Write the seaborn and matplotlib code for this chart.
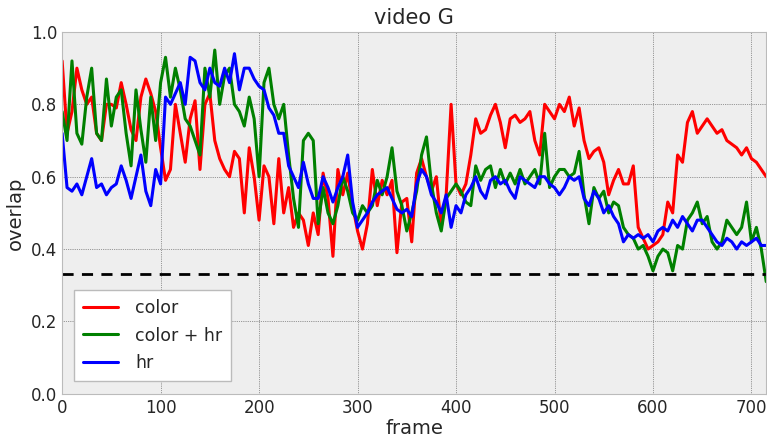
import numpy as np
import pandas as pd
import matplotlib
matplotlib.use("Agg")
import matplotlib.pyplot as plt
import seaborn as sns

frames = list(range(0, 716, 5))

color = [0.92, 0.72, 0.78, 0.90, 0.84, 0.80, 0.82, 0.72, 0.70, 0.80,
         0.80, 0.79, 0.86, 0.80, 0.73, 0.70, 0.82, 0.87, 0.83, 0.78,
         0.68, 0.59, 0.62, 0.80, 0.72, 0.64, 0.76, 0.81, 0.62, 0.80,
         0.83, 0.70, 0.65, 0.62, 0.60, 0.67, 0.65, 0.50, 0.68, 0.60,
         0.48, 0.63, 0.60, 0.47, 0.65, 0.50, 0.57, 0.46, 0.50, 0.48,
         0.41, 0.50, 0.44, 0.61, 0.54, 0.38, 0.62, 0.55, 0.61, 0.52,
         0.45, 0.40, 0.47, 0.62, 0.52, 0.59, 0.55, 0.59, 0.39, 0.53,
         0.54, 0.42, 0.61, 0.65, 0.60, 0.56, 0.60, 0.46, 0.55, 0.80,
         0.58, 0.55, 0.58, 0.66, 0.76, 0.72, 0.73, 0.77, 0.80, 0.75,
         0.68, 0.76, 0.77, 0.75, 0.76, 0.78, 0.70, 0.66, 0.80, 0.78,
         0.76, 0.80, 0.78, 0.82, 0.74, 0.79, 0.70, 0.65, 0.67, 0.68,
         0.64, 0.55, 0.59, 0.62, 0.58, 0.58, 0.63, 0.46, 0.43, 0.40,
         0.41, 0.42, 0.44, 0.53, 0.50, 0.66, 0.64, 0.75, 0.78, 0.72,
         0.74, 0.76, 0.74, 0.72, 0.73, 0.70, 0.69, 0.68, 0.66, 0.68,
         0.65, 0.64, 0.62, 0.60]

color_hr = [0.78, 0.70, 0.92, 0.72, 0.69, 0.82, 0.90, 0.72, 0.70, 0.87,
            0.74, 0.82, 0.84, 0.72, 0.63, 0.84, 0.73, 0.64, 0.82, 0.70,
            0.86, 0.93, 0.82, 0.90, 0.84, 0.76, 0.74, 0.70, 0.66, 0.90,
            0.82, 0.95, 0.80, 0.88, 0.90, 0.80, 0.78, 0.74, 0.82, 0.76,
            0.60, 0.86, 0.90, 0.80, 0.76, 0.80, 0.66, 0.54, 0.46, 0.70,
            0.72, 0.70, 0.47, 0.57, 0.50, 0.47, 0.52, 0.60, 0.56, 0.50,
            0.48, 0.52, 0.50, 0.52, 0.59, 0.55, 0.60, 0.68, 0.56, 0.52,
            0.45, 0.50, 0.56, 0.66, 0.71, 0.58, 0.50, 0.45, 0.54, 0.56,
            0.58, 0.56, 0.53, 0.52, 0.63, 0.59, 0.62, 0.63, 0.57, 0.62,
            0.58, 0.61, 0.58, 0.62, 0.58, 0.60, 0.62, 0.58, 0.72, 0.57,
            0.60, 0.62, 0.62, 0.60, 0.61, 0.67, 0.55, 0.47, 0.57, 0.54,
            0.56, 0.50, 0.53, 0.52, 0.46, 0.44, 0.43, 0.40, 0.41, 0.38,
            0.34, 0.38, 0.40, 0.39, 0.34, 0.41, 0.40, 0.48, 0.50, 0.53,
            0.47, 0.49, 0.42, 0.40, 0.42, 0.48, 0.46, 0.44, 0.46, 0.53,
            0.42, 0.46, 0.40, 0.31]

hr = [0.72, 0.57, 0.56, 0.58, 0.55, 0.60, 0.65, 0.57, 0.58, 0.55,
      0.57, 0.58, 0.63, 0.59, 0.54, 0.60, 0.66, 0.56, 0.52, 0.62,
      0.58, 0.82, 0.80, 0.83, 0.86, 0.80, 0.93, 0.92, 0.86, 0.84,
      0.90, 0.86, 0.85, 0.90, 0.86, 0.94, 0.84, 0.90, 0.90, 0.87,
      0.85, 0.84, 0.79, 0.77, 0.72, 0.72, 0.63, 0.60, 0.57, 0.64,
      0.58, 0.54, 0.54, 0.60, 0.57, 0.53, 0.57, 0.60, 0.66, 0.53,
      0.46, 0.48, 0.50, 0.53, 0.55, 0.56, 0.57, 0.54, 0.51, 0.50,
      0.51, 0.49, 0.58, 0.62, 0.60, 0.55, 0.53, 0.50, 0.55, 0.46,
      0.52, 0.50, 0.55, 0.57, 0.60, 0.56, 0.54, 0.59, 0.60, 0.58,
      0.59, 0.56, 0.54, 0.60, 0.59, 0.58, 0.57, 0.60, 0.60, 0.58,
      0.57, 0.55, 0.57, 0.60, 0.59, 0.60, 0.54, 0.52, 0.56, 0.54,
      0.50, 0.52, 0.49, 0.47, 0.42, 0.44, 0.43, 0.44, 0.43, 0.44,
      0.42, 0.45, 0.46, 0.45, 0.48, 0.46, 0.49, 0.47, 0.45, 0.48,
      0.48, 0.46, 0.44, 0.42, 0.41, 0.43, 0.42, 0.40, 0.42, 0.41,
      0.42, 0.43, 0.41, 0.41]

threshold = 0.33
series_names = ["color", "color + hr", "hr"]
palette = {"color": "red", "color + hr": "green", "hr": "blue"}

df = pd.concat([
    pd.DataFrame({"frame": frames, "overlap": vals, "method": name})
    for name, vals in zip(series_names, [color, color_hr, hr])
])

sns.set_style("whitegrid", {
    "axes.facecolor": "#eeeeee",
    "grid.color": "#444444",
    "grid.linestyle": ":",
    "axes.edgecolor": "#bbbbbb",
    "xtick.direction": "in",
    "ytick.direction": "in",
})
plt.rcParams["font.family"] = ["DejaVu Sans"]

fig = plt.figure(figsize=(7.67, 4.44), dpi=100)
ax = fig.add_axes([0.081, 0.113, 0.918, 0.815])

sns.lineplot(data=df, x="frame", y="overlap", hue="method",
             palette=palette, linewidth=2.2, ax=ax)
ax.axhline(threshold, color="black", linestyle="--", linewidth=2,
           dashes=(4, 3))

ax.set_xlim(0, 715)
ax.set_ylim(0, 1.0)
ax.set_xticks(range(0, 701, 100))
ax.set_yticks(np.arange(0, 1.01, 0.2))
ax.grid(True, linewidth=0.5)
ax.tick_params(labelsize=12, length=4, color="black")
ax.set_xlabel("frame", fontsize=14, labelpad=2)
ax.set_ylabel("overlap", fontsize=14)
ax.set_title("video G", fontsize=15)

leg = ax.legend(loc="lower left", fontsize=12.5, frameon=True,
                bbox_to_anchor=(0.005, 0.012), borderpad=0.5,
                labelspacing=0.55, handlelength=2.0, handletextpad=1.0,
                fancybox=False)
leg.get_frame().set_facecolor("white")
leg.get_frame().set_edgecolor("#bbbbbb")
leg.get_frame().set_alpha(1.0)

fig.savefig("out.png", dpi=100)
